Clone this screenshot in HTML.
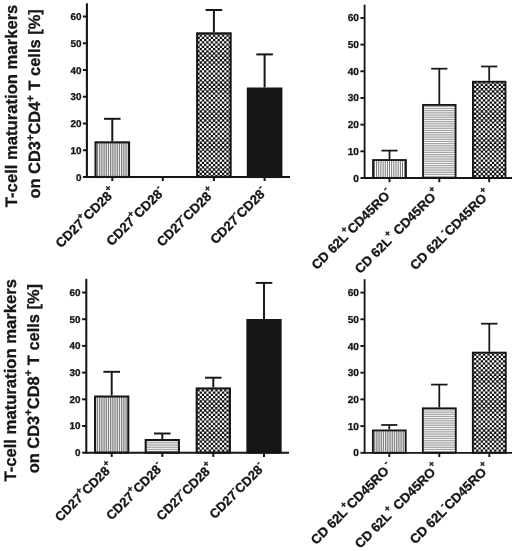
<!DOCTYPE html>
<html>
<head>
<meta charset="utf-8">
<title>T-cell maturation markers</title>
<style>
html,body{margin:0;padding:0;background:#fff;}
body{width:520px;height:551px;overflow:hidden;}
svg{display:block;filter:grayscale(1);}
svg text{text-rendering:geometricPrecision;font-family:"Liberation Sans",sans-serif;font-weight:bold;fill:#161616;stroke:#161616;stroke-width:0.3px;}
</style>
</head>
<body>
<svg width="520" height="551" viewBox="0 0 520 551">
<defs>
<pattern id="pv" width="22.000" height="22.000" patternUnits="userSpaceOnUse"><rect width="22.000" height="22.000" fill="#fff"/><rect x="0.000" y="0" width="1.35" height="22.000" fill="#848484"/><rect x="2.200" y="0" width="1.35" height="22.000" fill="#848484"/><rect x="4.400" y="0" width="1.35" height="22.000" fill="#848484"/><rect x="6.600" y="0" width="1.35" height="22.000" fill="#848484"/><rect x="8.800" y="0" width="1.35" height="22.000" fill="#848484"/><rect x="11.000" y="0" width="1.35" height="22.000" fill="#848484"/><rect x="13.200" y="0" width="1.35" height="22.000" fill="#848484"/><rect x="15.400" y="0" width="1.35" height="22.000" fill="#848484"/><rect x="17.600" y="0" width="1.35" height="22.000" fill="#848484"/><rect x="19.800" y="0" width="1.35" height="22.000" fill="#848484"/></pattern>
<pattern id="pv2" width="54.000" height="54.000" patternUnits="userSpaceOnUse"><rect width="54.000" height="54.000" fill="#fff"/><rect x="0.300" y="0" width="0.9" height="54.000" fill="#666"/><rect x="2.460" y="0" width="0.9" height="54.000" fill="#666"/><rect x="4.620" y="0" width="0.9" height="54.000" fill="#666"/><rect x="6.780" y="0" width="0.9" height="54.000" fill="#666"/><rect x="8.940" y="0" width="0.9" height="54.000" fill="#666"/><rect x="11.100" y="0" width="0.9" height="54.000" fill="#666"/><rect x="13.260" y="0" width="0.9" height="54.000" fill="#666"/><rect x="15.420" y="0" width="0.9" height="54.000" fill="#666"/><rect x="17.580" y="0" width="0.9" height="54.000" fill="#666"/><rect x="19.740" y="0" width="0.9" height="54.000" fill="#666"/><rect x="21.900" y="0" width="0.9" height="54.000" fill="#666"/><rect x="24.060" y="0" width="0.9" height="54.000" fill="#666"/><rect x="26.220" y="0" width="0.9" height="54.000" fill="#666"/><rect x="28.380" y="0" width="0.9" height="54.000" fill="#666"/><rect x="30.540" y="0" width="0.9" height="54.000" fill="#666"/><rect x="32.700" y="0" width="0.9" height="54.000" fill="#666"/><rect x="34.860" y="0" width="0.9" height="54.000" fill="#666"/><rect x="37.020" y="0" width="0.9" height="54.000" fill="#666"/><rect x="39.180" y="0" width="0.9" height="54.000" fill="#666"/><rect x="41.340" y="0" width="0.9" height="54.000" fill="#666"/><rect x="43.500" y="0" width="0.9" height="54.000" fill="#666"/><rect x="45.660" y="0" width="0.9" height="54.000" fill="#666"/><rect x="47.820" y="0" width="0.9" height="54.000" fill="#666"/><rect x="49.980" y="0" width="0.9" height="54.000" fill="#666"/><rect x="52.140" y="0" width="0.9" height="54.000" fill="#666"/></pattern>
<pattern id="ph" width="22.000" height="22.000" patternUnits="userSpaceOnUse"><rect width="22.000" height="22.000" fill="#fff"/><rect y="0.000" x="0" height="1.3" width="22.000" fill="#a4a4a4"/><rect y="2.200" x="0" height="1.3" width="22.000" fill="#a4a4a4"/><rect y="4.400" x="0" height="1.3" width="22.000" fill="#a4a4a4"/><rect y="6.600" x="0" height="1.3" width="22.000" fill="#a4a4a4"/><rect y="8.800" x="0" height="1.3" width="22.000" fill="#a4a4a4"/><rect y="11.000" x="0" height="1.3" width="22.000" fill="#a4a4a4"/><rect y="13.200" x="0" height="1.3" width="22.000" fill="#a4a4a4"/><rect y="15.400" x="0" height="1.3" width="22.000" fill="#a4a4a4"/><rect y="17.600" x="0" height="1.3" width="22.000" fill="#a4a4a4"/><rect y="19.800" x="0" height="1.3" width="22.000" fill="#a4a4a4"/></pattern>
<pattern id="pc" width="58.000" height="58.000" patternUnits="userSpaceOnUse"><rect width="58.000" height="58.000" fill="#fff"/><g stroke="#111" stroke-width="2.3646" stroke-dasharray="2.3646 2.0969"><line x1="-4.4615" y1="0.0000" x2="62.4615" y2="0.0000" stroke-dashoffset="-3.2792"/><line x1="-4.4615" y1="2.2308" x2="62.4615" y2="2.2308" stroke-dashoffset="-1.0485"/><line x1="-4.4615" y1="4.4615" x2="62.4615" y2="4.4615" stroke-dashoffset="-3.2792"/><line x1="-4.4615" y1="6.6923" x2="62.4615" y2="6.6923" stroke-dashoffset="-1.0485"/><line x1="-4.4615" y1="8.9231" x2="62.4615" y2="8.9231" stroke-dashoffset="-3.2792"/><line x1="-4.4615" y1="11.1538" x2="62.4615" y2="11.1538" stroke-dashoffset="-1.0485"/><line x1="-4.4615" y1="13.3846" x2="62.4615" y2="13.3846" stroke-dashoffset="-3.2792"/><line x1="-4.4615" y1="15.6154" x2="62.4615" y2="15.6154" stroke-dashoffset="-1.0485"/><line x1="-4.4615" y1="17.8462" x2="62.4615" y2="17.8462" stroke-dashoffset="-3.2792"/><line x1="-4.4615" y1="20.0769" x2="62.4615" y2="20.0769" stroke-dashoffset="-1.0485"/><line x1="-4.4615" y1="22.3077" x2="62.4615" y2="22.3077" stroke-dashoffset="-3.2792"/><line x1="-4.4615" y1="24.5385" x2="62.4615" y2="24.5385" stroke-dashoffset="-1.0485"/><line x1="-4.4615" y1="26.7692" x2="62.4615" y2="26.7692" stroke-dashoffset="-3.2792"/><line x1="-4.4615" y1="29.0000" x2="62.4615" y2="29.0000" stroke-dashoffset="-1.0485"/><line x1="-4.4615" y1="31.2308" x2="62.4615" y2="31.2308" stroke-dashoffset="-3.2792"/><line x1="-4.4615" y1="33.4615" x2="62.4615" y2="33.4615" stroke-dashoffset="-1.0485"/><line x1="-4.4615" y1="35.6923" x2="62.4615" y2="35.6923" stroke-dashoffset="-3.2792"/><line x1="-4.4615" y1="37.9231" x2="62.4615" y2="37.9231" stroke-dashoffset="-1.0485"/><line x1="-4.4615" y1="40.1538" x2="62.4615" y2="40.1538" stroke-dashoffset="-3.2792"/><line x1="-4.4615" y1="42.3846" x2="62.4615" y2="42.3846" stroke-dashoffset="-1.0485"/><line x1="-4.4615" y1="44.6154" x2="62.4615" y2="44.6154" stroke-dashoffset="-3.2792"/><line x1="-4.4615" y1="46.8462" x2="62.4615" y2="46.8462" stroke-dashoffset="-1.0485"/><line x1="-4.4615" y1="49.0769" x2="62.4615" y2="49.0769" stroke-dashoffset="-3.2792"/><line x1="-4.4615" y1="51.3077" x2="62.4615" y2="51.3077" stroke-dashoffset="-1.0485"/><line x1="-4.4615" y1="53.5385" x2="62.4615" y2="53.5385" stroke-dashoffset="-3.2792"/><line x1="-4.4615" y1="55.7692" x2="62.4615" y2="55.7692" stroke-dashoffset="-1.0485"/><line x1="-4.4615" y1="58.0000" x2="62.4615" y2="58.0000" stroke-dashoffset="-3.2792"/></g></pattern>
</defs>
<rect width="520" height="551" fill="#fff"/>
<g id="titles">
<text transform="translate(16.9,105.9) rotate(-90)" font-size="16.65" text-anchor="middle">T-cell maturation markers</text>
<text transform="translate(40.2,103.9) rotate(-90)" font-size="16.45" text-anchor="middle">on CD3<tspan font-size="11.19" dy="-6.58">+</tspan><tspan dy="6.58">CD4</tspan><tspan font-size="11.19" dy="-6.58">+</tspan><tspan dy="6.58"> T cells [%]</tspan></text>
<text transform="translate(16.4,380.3) rotate(-90)" font-size="16.65" text-anchor="middle">T-cell maturation markers</text>
<text transform="translate(39.0,378.6) rotate(-90)" font-size="16.45" text-anchor="middle">on CD3<tspan font-size="11.19" dy="-6.58">+</tspan><tspan dy="6.58">CD8</tspan><tspan font-size="11.19" dy="-6.58">+</tspan><tspan dy="6.58"> T cells [%]</tspan></text>
</g>
<g id="chart-tl">
<line x1="112.30" y1="141.30" x2="112.30" y2="118.80" stroke="#161616" stroke-width="2.00"/>
<line x1="104.00" y1="118.80" x2="120.60" y2="118.80" stroke="#161616" stroke-width="2.00"/>
<rect x="95.55" y="142.35" width="33.50" height="34.65" fill="url(#pv)" stroke="#161616" stroke-width="2.10"/>
<rect x="146.05" y="177.00" width="33.50" height="0.00" fill="url(#ph)" stroke="#161616" stroke-width="2.10"/>
<line x1="213.90" y1="32.30" x2="213.90" y2="10.00" stroke="#161616" stroke-width="2.00"/>
<line x1="205.60" y1="10.00" x2="222.20" y2="10.00" stroke="#161616" stroke-width="2.00"/>
<rect x="197.15" y="33.35" width="33.50" height="143.65" fill="url(#pc)" stroke="#161616" stroke-width="2.10"/>
<line x1="264.60" y1="87.50" x2="264.60" y2="54.40" stroke="#161616" stroke-width="2.00"/>
<line x1="256.30" y1="54.40" x2="272.90" y2="54.40" stroke="#161616" stroke-width="2.00"/>
<rect x="247.85" y="88.55" width="33.50" height="88.45" fill="#161616" stroke="#161616" stroke-width="2.10"/>
<line x1="86.90" y1="3.30" x2="86.90" y2="178.05" stroke="#161616" stroke-width="2.10"/>
<line x1="85.85" y1="177.00" x2="290.00" y2="177.00" stroke="#161616" stroke-width="2.10"/>
<line x1="82.90" y1="177.00" x2="86.90" y2="177.00" stroke="#161616" stroke-width="2.00"/>
<text x="81.40" y="180.54" font-size="9.9" text-anchor="end">0</text>
<line x1="82.90" y1="150.25" x2="86.90" y2="150.25" stroke="#161616" stroke-width="2.00"/>
<text x="81.40" y="153.79" font-size="9.9" text-anchor="end">10</text>
<line x1="82.90" y1="123.50" x2="86.90" y2="123.50" stroke="#161616" stroke-width="2.00"/>
<text x="81.40" y="127.04" font-size="9.9" text-anchor="end">20</text>
<line x1="82.90" y1="96.75" x2="86.90" y2="96.75" stroke="#161616" stroke-width="2.00"/>
<text x="81.40" y="100.29" font-size="9.9" text-anchor="end">30</text>
<line x1="82.90" y1="70.00" x2="86.90" y2="70.00" stroke="#161616" stroke-width="2.00"/>
<text x="81.40" y="73.54" font-size="9.9" text-anchor="end">40</text>
<line x1="82.90" y1="43.25" x2="86.90" y2="43.25" stroke="#161616" stroke-width="2.00"/>
<text x="81.40" y="46.79" font-size="9.9" text-anchor="end">50</text>
<line x1="82.90" y1="16.50" x2="86.90" y2="16.50" stroke="#161616" stroke-width="2.00"/>
<text x="81.40" y="20.04" font-size="9.9" text-anchor="end">60</text>
<line x1="112.30" y1="177.00" x2="112.30" y2="181.00" stroke="#161616" stroke-width="2.00"/>
<g transform="translate(112.60,197.00) rotate(-45)" font-size="13.2" stroke-width="0.45"><text text-anchor="end">CD27<tspan font-size="9.24" dy="-6.60">+</tspan><tspan dy="6.60">CD28</tspan></text><text x="0.3" y="-6.60" font-size="9.24">+</text></g>
<line x1="162.80" y1="177.00" x2="162.80" y2="181.00" stroke="#161616" stroke-width="2.00"/>
<g transform="translate(163.15,195.00) rotate(-45)" font-size="13.2" stroke-width="0.45"><text text-anchor="end">CD27<tspan font-size="9.24" dy="-6.60">+</tspan><tspan dy="6.60">CD28</tspan></text><text x="0.3" y="-6.60" font-size="9.24">-</text></g>
<line x1="213.90" y1="177.00" x2="213.90" y2="181.00" stroke="#161616" stroke-width="2.00"/>
<g transform="translate(212.20,197.40) rotate(-45)" font-size="13.2" stroke-width="0.45"><text text-anchor="end">CD27<tspan font-size="9.24" dy="-6.60">-</tspan><tspan dy="6.60">CD28</tspan></text><text x="0.3" y="-6.60" font-size="9.24">+</text></g>
<line x1="264.60" y1="177.00" x2="264.60" y2="181.00" stroke="#161616" stroke-width="2.00"/>
<g transform="translate(265.50,195.00) rotate(-45)" font-size="13.2" stroke-width="0.45"><text text-anchor="end">CD27<tspan font-size="9.24" dy="-6.60">-</tspan><tspan dy="6.60">CD28</tspan></text><text x="0.3" y="-6.60" font-size="9.24">-</text></g>
</g>
<g id="chart-tr">
<line x1="389.50" y1="159.10" x2="389.50" y2="150.60" stroke="#161616" stroke-width="1.75"/>
<line x1="381.40" y1="150.60" x2="397.60" y2="150.60" stroke="#161616" stroke-width="1.75"/>
<rect x="373.07" y="160.03" width="32.85" height="17.98" fill="url(#pv2)" stroke="#161616" stroke-width="1.85"/>
<line x1="439.30" y1="104.00" x2="439.30" y2="68.70" stroke="#161616" stroke-width="1.75"/>
<line x1="431.20" y1="68.70" x2="447.40" y2="68.70" stroke="#161616" stroke-width="1.75"/>
<rect x="423.03" y="104.92" width="32.55" height="73.08" fill="url(#ph)" stroke="#161616" stroke-width="1.85"/>
<line x1="489.20" y1="80.80" x2="489.20" y2="66.50" stroke="#161616" stroke-width="1.75"/>
<line x1="481.10" y1="66.50" x2="497.30" y2="66.50" stroke="#161616" stroke-width="1.75"/>
<rect x="472.93" y="81.72" width="32.55" height="96.28" fill="url(#pc)" stroke="#161616" stroke-width="1.85"/>
<line x1="364.60" y1="4.60" x2="364.60" y2="178.93" stroke="#161616" stroke-width="1.85"/>
<line x1="363.68" y1="178.00" x2="512.00" y2="178.00" stroke="#161616" stroke-width="1.85"/>
<line x1="360.40" y1="178.00" x2="364.60" y2="178.00" stroke="#161616" stroke-width="1.90"/>
<text x="358.90" y="181.52" font-size="10.1" text-anchor="end">0</text>
<line x1="360.40" y1="151.32" x2="364.60" y2="151.32" stroke="#161616" stroke-width="1.90"/>
<text x="358.90" y="154.84" font-size="10.1" text-anchor="end">10</text>
<line x1="360.40" y1="124.64" x2="364.60" y2="124.64" stroke="#161616" stroke-width="1.90"/>
<text x="358.90" y="128.16" font-size="10.1" text-anchor="end">20</text>
<line x1="360.40" y1="97.96" x2="364.60" y2="97.96" stroke="#161616" stroke-width="1.90"/>
<text x="358.90" y="101.48" font-size="10.1" text-anchor="end">30</text>
<line x1="360.40" y1="71.28" x2="364.60" y2="71.28" stroke="#161616" stroke-width="1.90"/>
<text x="358.90" y="74.80" font-size="10.1" text-anchor="end">40</text>
<line x1="360.40" y1="44.60" x2="364.60" y2="44.60" stroke="#161616" stroke-width="1.90"/>
<text x="358.90" y="48.12" font-size="10.1" text-anchor="end">50</text>
<line x1="360.40" y1="17.92" x2="364.60" y2="17.92" stroke="#161616" stroke-width="1.90"/>
<text x="358.90" y="21.44" font-size="10.1" text-anchor="end">60</text>
<line x1="389.50" y1="178.00" x2="389.50" y2="182.20" stroke="#161616" stroke-width="1.90"/>
<g transform="translate(390.40,196.70) rotate(-45)" font-size="13.15" stroke-width="0.45"><text text-anchor="end">CD 62L<tspan font-size="9.21" dy="-6.58">+</tspan><tspan dy="6.58">CD45RO</tspan></text><text x="0.3" y="-6.58" font-size="9.21">-</text></g>
<line x1="439.30" y1="178.00" x2="439.30" y2="182.20" stroke="#161616" stroke-width="1.90"/>
<g transform="translate(436.40,198.10) rotate(-45)" font-size="13.15" stroke-width="0.45"><text text-anchor="end">CD 62L<tspan font-size="9.21" dy="-6.58">+</tspan><tspan dy="6.58"> CD45RO</tspan></text><text x="0.3" y="-6.58" font-size="9.21">+</text></g>
<line x1="489.20" y1="178.00" x2="489.20" y2="182.20" stroke="#161616" stroke-width="1.90"/>
<g transform="translate(487.40,198.90) rotate(-45)" font-size="13.15" stroke-width="0.45"><text text-anchor="end">CD 62L<tspan font-size="9.21" dy="-6.58">-</tspan><tspan dy="6.58">CD45RO</tspan></text><text x="0.3" y="-6.58" font-size="9.21">+</text></g>
</g>
<g id="chart-bl">
<line x1="111.70" y1="395.50" x2="111.70" y2="371.80" stroke="#161616" stroke-width="1.95"/>
<line x1="103.40" y1="371.80" x2="120.00" y2="371.80" stroke="#161616" stroke-width="1.95"/>
<rect x="95.08" y="396.52" width="33.25" height="56.17" fill="url(#pv)" stroke="#161616" stroke-width="2.05"/>
<line x1="162.30" y1="439.00" x2="162.30" y2="433.50" stroke="#161616" stroke-width="1.95"/>
<line x1="154.00" y1="433.50" x2="170.60" y2="433.50" stroke="#161616" stroke-width="1.95"/>
<rect x="145.68" y="440.02" width="33.25" height="12.67" fill="url(#ph)" stroke="#161616" stroke-width="2.05"/>
<line x1="213.30" y1="387.40" x2="213.30" y2="377.70" stroke="#161616" stroke-width="1.95"/>
<line x1="205.00" y1="377.70" x2="221.60" y2="377.70" stroke="#161616" stroke-width="1.95"/>
<rect x="196.68" y="388.42" width="33.25" height="64.28" fill="url(#pc)" stroke="#161616" stroke-width="2.05"/>
<line x1="264.00" y1="319.00" x2="264.00" y2="282.90" stroke="#161616" stroke-width="1.95"/>
<line x1="255.70" y1="282.90" x2="272.30" y2="282.90" stroke="#161616" stroke-width="1.95"/>
<rect x="247.38" y="320.02" width="33.25" height="132.67" fill="#161616" stroke="#161616" stroke-width="2.05"/>
<line x1="86.30" y1="278.90" x2="86.30" y2="453.72" stroke="#161616" stroke-width="2.05"/>
<line x1="85.27" y1="452.70" x2="289.00" y2="452.70" stroke="#161616" stroke-width="2.05"/>
<line x1="82.10" y1="452.70" x2="86.30" y2="452.70" stroke="#161616" stroke-width="2.00"/>
<text x="80.40" y="456.14" font-size="9.9" text-anchor="end">0</text>
<line x1="82.10" y1="426.00" x2="86.30" y2="426.00" stroke="#161616" stroke-width="2.00"/>
<text x="80.40" y="429.44" font-size="9.9" text-anchor="end">10</text>
<line x1="82.10" y1="399.30" x2="86.30" y2="399.30" stroke="#161616" stroke-width="2.00"/>
<text x="80.40" y="402.74" font-size="9.9" text-anchor="end">20</text>
<line x1="82.10" y1="372.60" x2="86.30" y2="372.60" stroke="#161616" stroke-width="2.00"/>
<text x="80.40" y="376.04" font-size="9.9" text-anchor="end">30</text>
<line x1="82.10" y1="345.90" x2="86.30" y2="345.90" stroke="#161616" stroke-width="2.00"/>
<text x="80.40" y="349.34" font-size="9.9" text-anchor="end">40</text>
<line x1="82.10" y1="319.20" x2="86.30" y2="319.20" stroke="#161616" stroke-width="2.00"/>
<text x="80.40" y="322.64" font-size="9.9" text-anchor="end">50</text>
<line x1="82.10" y1="292.50" x2="86.30" y2="292.50" stroke="#161616" stroke-width="2.00"/>
<text x="80.40" y="295.94" font-size="9.9" text-anchor="end">60</text>
<line x1="111.70" y1="452.70" x2="111.70" y2="456.90" stroke="#161616" stroke-width="2.00"/>
<g transform="translate(110.50,472.00) rotate(-45)" font-size="12.9" stroke-width="0.45"><text text-anchor="end">CD27<tspan font-size="9.03" dy="-6.45">+</tspan><tspan dy="6.45">CD28</tspan></text><text x="0.3" y="-6.45" font-size="9.03">+</text></g>
<line x1="162.30" y1="452.70" x2="162.30" y2="456.90" stroke="#161616" stroke-width="2.00"/>
<g transform="translate(161.85,470.50) rotate(-45)" font-size="12.9" stroke-width="0.45"><text text-anchor="end">CD27<tspan font-size="9.03" dy="-6.45">+</tspan><tspan dy="6.45">CD28</tspan></text><text x="0.3" y="-6.45" font-size="9.03">-</text></g>
<line x1="213.30" y1="452.70" x2="213.30" y2="456.90" stroke="#161616" stroke-width="2.00"/>
<g transform="translate(210.60,472.40) rotate(-45)" font-size="12.9" stroke-width="0.45"><text text-anchor="end">CD27<tspan font-size="9.03" dy="-6.45">-</tspan><tspan dy="6.45">CD28</tspan></text><text x="0.3" y="-6.45" font-size="9.03">+</text></g>
<line x1="264.00" y1="452.70" x2="264.00" y2="456.90" stroke="#161616" stroke-width="2.00"/>
<g transform="translate(263.40,470.70) rotate(-45)" font-size="12.9" stroke-width="0.45"><text text-anchor="end">CD27<tspan font-size="9.03" dy="-6.45">-</tspan><tspan dy="6.45">CD28</tspan></text><text x="0.3" y="-6.45" font-size="9.03">-</text></g>
</g>
<g id="chart-br">
<line x1="389.30" y1="429.50" x2="389.30" y2="425.00" stroke="#161616" stroke-width="1.75"/>
<line x1="381.20" y1="425.00" x2="397.40" y2="425.00" stroke="#161616" stroke-width="1.75"/>
<rect x="372.88" y="430.43" width="32.85" height="22.38" fill="url(#pv)" stroke="#161616" stroke-width="1.85"/>
<line x1="439.30" y1="407.40" x2="439.30" y2="384.60" stroke="#161616" stroke-width="1.75"/>
<line x1="431.10" y1="384.60" x2="447.50" y2="384.60" stroke="#161616" stroke-width="1.75"/>
<rect x="422.83" y="408.32" width="32.95" height="44.48" fill="url(#ph)" stroke="#161616" stroke-width="1.85"/>
<line x1="489.30" y1="351.70" x2="489.30" y2="323.70" stroke="#161616" stroke-width="1.75"/>
<line x1="481.10" y1="323.70" x2="497.50" y2="323.70" stroke="#161616" stroke-width="1.75"/>
<rect x="472.83" y="352.62" width="32.95" height="100.18" fill="url(#pc)" stroke="#161616" stroke-width="1.85"/>
<line x1="364.60" y1="279.20" x2="364.60" y2="453.73" stroke="#161616" stroke-width="1.85"/>
<line x1="363.68" y1="452.80" x2="512.00" y2="452.80" stroke="#161616" stroke-width="1.85"/>
<line x1="360.40" y1="452.80" x2="364.60" y2="452.80" stroke="#161616" stroke-width="1.90"/>
<text x="358.90" y="456.32" font-size="10.1" text-anchor="end">0</text>
<line x1="360.40" y1="426.10" x2="364.60" y2="426.10" stroke="#161616" stroke-width="1.90"/>
<text x="358.90" y="429.62" font-size="10.1" text-anchor="end">10</text>
<line x1="360.40" y1="399.40" x2="364.60" y2="399.40" stroke="#161616" stroke-width="1.90"/>
<text x="358.90" y="402.92" font-size="10.1" text-anchor="end">20</text>
<line x1="360.40" y1="372.70" x2="364.60" y2="372.70" stroke="#161616" stroke-width="1.90"/>
<text x="358.90" y="376.22" font-size="10.1" text-anchor="end">30</text>
<line x1="360.40" y1="346.00" x2="364.60" y2="346.00" stroke="#161616" stroke-width="1.90"/>
<text x="358.90" y="349.52" font-size="10.1" text-anchor="end">40</text>
<line x1="360.40" y1="319.30" x2="364.60" y2="319.30" stroke="#161616" stroke-width="1.90"/>
<text x="358.90" y="322.82" font-size="10.1" text-anchor="end">50</text>
<line x1="360.40" y1="292.60" x2="364.60" y2="292.60" stroke="#161616" stroke-width="1.90"/>
<text x="358.90" y="296.12" font-size="10.1" text-anchor="end">60</text>
<line x1="389.30" y1="452.80" x2="389.30" y2="457.00" stroke="#161616" stroke-width="1.90"/>
<g transform="translate(389.80,471.80) rotate(-45)" font-size="13.15" stroke-width="0.45"><text text-anchor="end">CD 62L<tspan font-size="9.21" dy="-6.58">+</tspan><tspan dy="6.58">CD45RO</tspan></text><text x="2.0" y="-6.58" font-size="9.21">-</text></g>
<line x1="439.30" y1="452.80" x2="439.30" y2="457.00" stroke="#161616" stroke-width="1.90"/>
<g transform="translate(436.30,472.95) rotate(-45)" font-size="13.15" stroke-width="0.45"><text text-anchor="end">CD 62L<tspan font-size="9.21" dy="-6.58">+</tspan><tspan dy="6.58"> CD45RO</tspan></text><text x="0.3" y="-6.58" font-size="9.21">+</text></g>
<line x1="489.30" y1="452.80" x2="489.30" y2="457.00" stroke="#161616" stroke-width="1.90"/>
<g transform="translate(487.20,472.90) rotate(-45)" font-size="13.15" stroke-width="0.45"><text text-anchor="end">CD 62L<tspan font-size="9.21" dy="-6.58">-</tspan><tspan dy="6.58">CD45RO</tspan></text><text x="0.3" y="-6.58" font-size="9.21">+</text></g>
</g>
</svg>
</body>
</html>
